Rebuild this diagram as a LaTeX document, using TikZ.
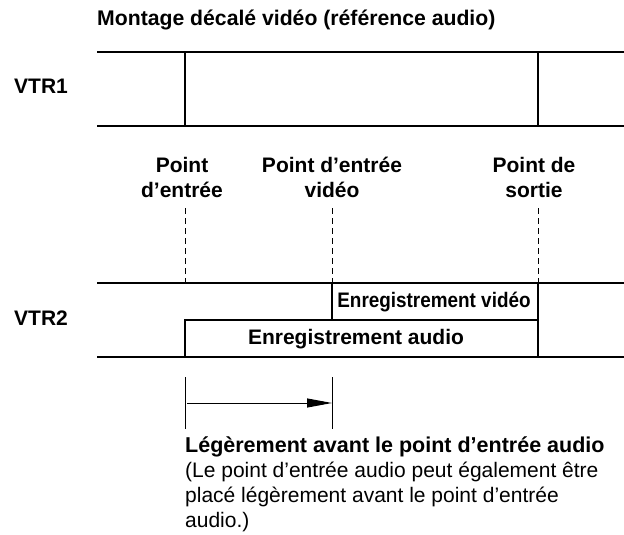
\documentclass[tikz,border=0pt]{standalone}
\usepackage{fontspec}
\setmainfont{Liberation Sans}
\usetikzlibrary{arrows.meta}
\begin{document}
\begin{tikzpicture}[x=1pt,y=-1pt,
  txt/.style={inner sep=0pt,font=\fontsize{21}{25}\selectfont},
  btxt/.style={inner sep=0pt,font=\bfseries\fontsize{21}{25}\selectfont},
  track/.style={line width=1.8pt},
  guide/.style={line width=0.9pt,dash pattern=on 6pt off 4pt},
  tick/.style={line width=1pt}]
\useasboundingbox[fill=white] (0,0) rectangle (624,535);

% title and track names
\node[btxt,anchor=base west] (title) at (97,26) {\fontsize{21.2}{25}\selectfont Montage décalé vidéo (référence audio)};
\node[btxt,anchor=base west] (vtr1) at (14,94) {VTR1};
\node[btxt,anchor=base west] (vtr2) at (14,325) {VTR2};

% key coordinates
\coordinate (a1) at (97,52);  \coordinate (a2) at (624,52);
\coordinate (b1) at (97,126); \coordinate (b2) at (624,126);
\coordinate (in1) at (185,52);  \coordinate (in2) at (185,126);
\coordinate (out1) at (538,52); \coordinate (out2) at (538,126);

% VTR1
\draw[track] (a1) -- (a2);
\draw[track] (b1) -- (b2);
\draw[track] (in1) -- (in2);
\draw[track] (out1) -- (out2);

% point labels
\node[btxt,anchor=base] (p1a) at (182,172) {Point};
\node[btxt,anchor=base] (p1b) at (182,197) {d’entrée};
\node[btxt,anchor=base] (p2a) at (332,172) {Point d’entrée};
\node[btxt,anchor=base] (p2b) at (332,197) {vidéo};
\node[btxt,anchor=base] (p3a) at (534,172) {Point de};
\node[btxt,anchor=base] (p3b) at (534,197) {sortie};

% guides
\coordinate (g1t) at (185,208); \coordinate (g1b) at (185,283);
\coordinate (g2t) at (332,208); \coordinate (g2b) at (332,283);
\coordinate (g3t) at (538,208); \coordinate (g3b) at (538,283);
\draw[guide] (g1t) -- (g1b);
\draw[guide] (g2t) -- (g2b);
\draw[guide] (g3t) -- (g3b);

% VTR2
\coordinate (c1) at (97,283);  \coordinate (c2) at (624,283);
\coordinate (d1) at (97,357);  \coordinate (d2) at (624,357);
\coordinate (vl) at (332,283); \coordinate (vr) at (538,320);
\coordinate (al) at (185,320); \coordinate (ar) at (538,357);
\draw[track] (c1) -- (c2);
\draw[track] (d1) -- (d2);
\draw[track] (vl) rectangle (vr);
\draw[track] (al) rectangle (ar);
\node[btxt,anchor=base] (vrec) at (434,307) {\scalebox{0.9}[1]{Enregistrement vidéo}};
\node[btxt,anchor=base] (arec) at (356,344) {Enregistrement audio};

% offset arrow
\coordinate (t1a) at (185,377); \coordinate (t1b) at (185,429);
\coordinate (t2a) at (332,377); \coordinate (t2b) at (332,429);
\coordinate (s) at (187,403);   \coordinate (e) at (332,403);
\draw[tick] (t1a) -- (t1b);
\draw[tick] (t2a) -- (t2b);
\draw[tick,-{Triangle[length=25pt,width=9pt]}] (s) -- (e);

% note
\node[btxt,anchor=base west] (n1) at (185,452) {\fontsize{21.5}{25}\selectfont Légèrement avant le point d’entrée audio};
\node[txt,anchor=base west] (n2) at (185,477) {(Le point d’entrée audio peut également être};
\node[txt,anchor=base west] (n3) at (185,502) {placé légèrement avant le point d’entrée};
\node[txt,anchor=base west] (n4) at (185,527) {audio.)};
\end{tikzpicture}
\end{document}
